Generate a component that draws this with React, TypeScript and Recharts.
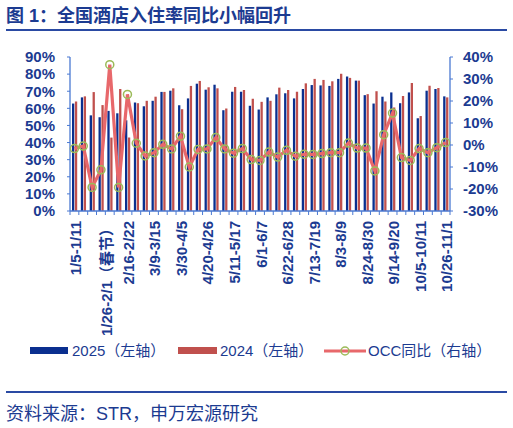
import { ComposedChart, Bar, Line, XAxis, YAxis } from "recharts";

const weeks = [
  "1/5-1/11", "1/12-1/18", "1/19-1/25", "1/26-2/1（春节）", "2/2-2/8", "2/9-2/15",
  "2/16-2/22", "2/23-3/1", "3/2-3/8", "3/9-3/15", "3/16-3/22", "3/23-3/29",
  "3/30-4/5", "4/6-4/12", "4/13-4/19", "4/20-4/26", "4/27-5/3", "5/4-5/10",
  "5/11-5/17", "5/18-5/24", "5/25-5/31", "6/1-6/7", "6/8-6/14", "6/15-6/21",
  "6/22-6/28", "6/29-7/5", "7/6-7/12", "7/13-7/19", "7/20-7/26", "7/27-8/2",
  "8/3-8/9", "8/10-8/16", "8/17-8/23", "8/24-8/30", "8/31-9/6", "9/7-9/13",
  "9/14-9/20", "9/21-9/27", "9/28-10/4", "10/5-10/11", "10/12-10/18", "10/19-10/25",
  "10/26-11/1",
];

// occupancy, % (left axis)
const occ2025 = [
  62.8, 66.4, 55.9, 54.8, 58.5, 57.1, 53.0, 63.4, 61.2, 64.4, 69.6, 70.3,
  61.8, 65.8, 74.4, 70.9, 73.8, 58.9, 69.7, 69.7, 61.5, 59.3, 66.4, 68.2,
  68.8, 65.8, 71.3, 73.6, 73.4, 73.1, 77.2, 78.6, 76.2, 67.7, 62.8, 66.8,
  69.3, 63.0, 69.3, 54.2, 70.3, 71.3, 67.0,
];
const occ2024 = [
  64.0, 67.0, 69.5, 61.9, 42.9, 71.3, 43.0, 63.0, 64.4, 66.8, 69.6, 71.7,
  59.5, 73.1, 76.0, 72.3, 71.7, 59.9, 72.5, 70.7, 65.6, 63.8, 64.4, 72.1,
  70.7, 69.7, 74.6, 77.2, 76.6, 75.8, 80.2, 77.8, 76.2, 68.3, 70.0, 64.0,
  60.5, 67.2, 74.8, 55.5, 73.2, 71.9, 66.4,
];
// yoy change, % (right axis)
const occYoy = [
  -1.6, -0.5, -19.3, -11.3, 36.5, -19.3, 23.0, 0.8, -5.0, -3.5, 0.3, -1.8,
  4.0, -10.0, -2.0, -1.8, 3.4, -1.8, -3.7, -1.6, -6.6, -7.0, -3.2, -5.5,
  -2.4, -5.1, -4.2, -4.3, -3.9, -3.5, -3.5, 0.9, -1.4, -1.4, -11.8, 4.7,
  14.5, -5.7, -7.0, -1.6, -3.5, -1.2, 1.1,
];

const leftTicks = [0, 10, 20, 30, 40, 50, 60, 70, 80, 90];
const rightTicks = [-30, -20, -10, 0, 10, 20, 30, 40];

const data = weeks.map((week, i) => ({
  week,
  y2025: occ2025[i],
  y2024: occ2024[i],
  yoy: occYoy[i],
}));

const TEXT = "#1C3B91";
const AXIS = "#4A79D2";
const BLUE = "#0A2F8F";
const RED = "#C0504D";
const LINE = "#E8686B";
const GREEN = "#9BBB59";
const LATIN = "Arial, 'Liberation Sans', 'Noto Sans CJK SC', sans-serif";

const PLOT_LEFT = 70;
const PLOT_RIGHT = 450;
const step = (PLOT_RIGHT - PLOT_LEFT) / weeks.length;

function WeekTick(props: any) {
  const { x, y, payload, index } = props;
  const half = step / 2;
  const label = String(payload.value);
  const shift = label.includes("春节") ? 6 : 1;
  return (
    <g>
      <line x1={x - half} x2={x - half} y1={y} y2={y + 4} stroke={AXIS} strokeWidth={1} />
      {index === weeks.length - 1 && (
        <line x1={x + half} x2={x + half} y1={y} y2={y + 4} stroke={AXIS} strokeWidth={1} />
      )}
      {index % 3 === 0 && (
        <text
          transform={`translate(${x + shift},${y + 10}) rotate(-90)`}
          textAnchor="end"
          dominantBaseline="central"
          fill={TEXT}
          fontSize={15}
          fontWeight="bold"
          fontFamily={LATIN}
        >
          {label}
        </text>
      )}
    </g>
  );
}

const legendText: React.CSSProperties = {
  position: "absolute",
  top: 343,
  fontSize: 15,
  lineHeight: "16px",
  color: TEXT,
  fontFamily: LATIN,
  whiteSpace: "nowrap",
};

export default function App() {
  return (
    <div
      style={{
        position: "absolute",
        left: 0,
        top: 0,
        width: 513,
        height: 428,
        background: "#fff",
        fontFamily: LATIN,
      }}
    >
      <div
        style={{
          position: "absolute",
          left: 6,
          top: 5,
          fontSize: 18,
          lineHeight: "22px",
          fontWeight: "bold",
          color: TEXT,
          whiteSpace: "nowrap",
        }}
      >
        图 1：全国酒店入住率同比小幅回升
      </div>
      <div style={{ position: "absolute", left: 6, top: 29, width: 501, height: 2, background: "#2A4AA3" }} />

      <div style={{ position: "absolute", left: 0, top: 0 }}>
        <ComposedChart
          width={513}
          height={428}
          data={data}
          margin={{ top: 57, right: 5, left: 8, bottom: 187 }}
          barGap={0.6}
        >
          <XAxis
            dataKey="week"
            xAxisId={0}
            interval={0}
            tickSize={0}
            tickMargin={0}
            height={30}
            axisLine={{ stroke: AXIS, strokeWidth: 1.3 }}
            tickLine={false}
            tick={(p: any) => <WeekTick {...p} />}
          />
          <YAxis
            yAxisId="left"
            orientation="left"
            width={62}
            domain={[0, 90]}
            ticks={leftTicks}
            interval={0}
            tickFormatter={(v: number) => `${v}%`}
            tick={{ fill: TEXT, fontSize: 15, fontWeight: "bold", fontFamily: LATIN }}
            axisLine={{ stroke: AXIS, strokeWidth: 1.3 }}
            tickLine={{ stroke: AXIS }}
            tickSize={3}
            tickMargin={12}
          />
          <YAxis
            yAxisId="right"
            orientation="right"
            width={58}
            domain={[-30, 40]}
            ticks={rightTicks}
            interval={0}
            tickFormatter={(v: number) => `${v}%`}
            tick={{ fill: TEXT, fontSize: 15, fontWeight: "bold", fontFamily: LATIN }}
            axisLine={{ stroke: AXIS, strokeWidth: 1.3 }}
            tickLine={{ stroke: AXIS }}
            tickSize={3}
            tickMargin={10}
          />
          <Bar yAxisId="left" dataKey="y2025" fill={BLUE} barSize={2.3} isAnimationActive={false} />
          <Bar yAxisId="left" dataKey="y2024" fill={RED} barSize={2.3} isAnimationActive={false} />
          <Line
            yAxisId="right"
            type="linear"
            dataKey="yoy"
            stroke={LINE}
            strokeWidth={3.2}
            dot={{ r: 4, stroke: GREEN, strokeWidth: 1.5, fill: "none" }}
            activeDot={false}
            isAnimationActive={false}
          />
        </ComposedChart>
      </div>

      {/* legend */}
      <div style={{ position: "absolute", left: 30, top: 347, width: 38, height: 7, background: BLUE }} />
      <div style={{ ...legendText, left: 72 }}>2025（左轴）</div>
      <div style={{ position: "absolute", left: 178, top: 347, width: 39, height: 7, background: RED }} />
      <div style={{ ...legendText, left: 220 }}>2024（左轴）</div>
      <svg style={{ position: "absolute", left: 322, top: 343 }} width={46} height={16}>
        <line x1={2} x2={44} y1={8} y2={8} stroke={LINE} strokeWidth={3.2} />
        <circle cx={23} cy={8} r={4} stroke={GREEN} strokeWidth={1.5} fill="none" />
      </svg>
      <div style={{ ...legendText, left: 368 }}>OCC同比（右轴）</div>

      {/* source */}
      <div style={{ position: "absolute", left: 6, top: 391, width: 501, height: 1.5, background: "#2A4AA3" }} />
      <div
        style={{
          position: "absolute",
          left: 6,
          top: 403,
          fontSize: 18,
          lineHeight: "22px",
          color: TEXT,
          whiteSpace: "nowrap",
        }}
      >
        资料来源：STR，申万宏源研究
      </div>
    </div>
  );
}
